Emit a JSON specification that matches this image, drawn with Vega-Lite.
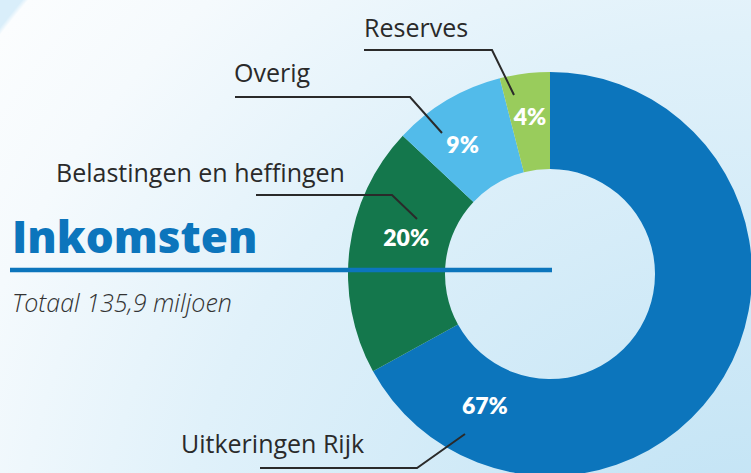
{
  "$schema": "https://vega.github.io/schema/vega-lite/v6.json",
  "width": 751,
  "height": 473,
  "padding": 0,
  "autosize": {"type": "none"},
  "background": "#f6fafd",
  "config": {
    "view": {
      "stroke": null,
      "fill": {
        "gradient": "radial",
        "x1": 1, "y1": 1, "r1": 0,
        "x2": 1, "y2": 1, "r2": 1.28,
        "stops": [
          {"offset": 0, "color": "#bde1f4"},
          {"offset": 0.6, "color": "#e0f1fa"},
          {"offset": 0.85, "color": "#f5fafd"},
          {"offset": 0.985, "color": "#fbfdfe"},
          {"offset": 0.99, "color": "#d9eefa"},
          {"offset": 1, "color": "#d9eefa"}
        ]
      }
    },
    "font": "Open Sans"
  },
  "title": {
    "text": "Inkomsten",
    "subtitle": "Totaal 135,9 miljoen",
    "anchor": "start",
    "frame": "group",
    "orient": "top",
    "offset": 0,
    "dx": 12,
    "dy": 317,
    "font": "Open Sans",
    "fontSize": 44,
    "fontWeight": 800,
    "color": "#0c75bc",
    "subtitleFont": "Open Sans",
    "subtitleFontSize": 25,
    "subtitleFontStyle": "italic",
    "subtitleFontWeight": 300,
    "subtitleColor": "#333333",
    "subtitlePadding": 30
  },
  "datasets": {
    "income": [
      {"bron": "Uitkeringen Rijk", "pct": 0.67, "order": 1},
      {"bron": "Belastingen en heffingen", "pct": 0.20, "order": 2},
      {"bron": "Overig", "pct": 0.09, "order": 3},
      {"bron": "Reserves", "pct": 0.04, "order": 4}
    ],
    "leaders": [
      {"bron": "Reserves", "seq": 1, "x": -186, "y": 224},
      {"bron": "Reserves", "seq": 2, "x": -58, "y": 224},
      {"bron": "Reserves", "seq": 3, "x": -36, "y": 179},
      {"bron": "Overig", "seq": 1, "x": -315, "y": 177},
      {"bron": "Overig", "seq": 2, "x": -140, "y": 177},
      {"bron": "Overig", "seq": 3, "x": -108, "y": 141},
      {"bron": "Belastingen en heffingen", "seq": 1, "x": -294, "y": 79},
      {"bron": "Belastingen en heffingen", "seq": 2, "x": -158, "y": 79},
      {"bron": "Belastingen en heffingen", "seq": 3, "x": -133, "y": 55},
      {"bron": "Uitkeringen Rijk", "seq": 1, "x": -290, "y": -194},
      {"bron": "Uitkeringen Rijk", "seq": 2, "x": -133, "y": -194},
      {"bron": "Uitkeringen Rijk", "seq": 3, "x": -85, "y": -160}
    ],
    "names": [
      {"bron": "Reserves", "x": -186, "y": 237},
      {"bron": "Overig", "x": -316, "y": 192},
      {"bron": "Belastingen en heffingen", "x": -494, "y": 92},
      {"bron": "Uitkeringen Rijk", "x": -369, "y": -179}
    ],
    "underline": [
      {"x": -540, "x2": 2, "y": 4}
    ]
  },
  "layer": [
    {
      "data": {"name": "income"},
      "mark": {"type": "arc", "innerRadius": 105, "outerRadius": 202, "x": 550, "y": 274},
      "encoding": {
        "theta": {"field": "pct", "type": "quantitative", "stack": true},
        "order": {"field": "order", "type": "quantitative"},
        "color": {
          "field": "bron", "type": "nominal", "legend": null,
          "scale": {
            "domain": ["Uitkeringen Rijk", "Belastingen en heffingen", "Overig", "Reserves"],
            "range": ["#0c75bc", "#14774c", "#52bbea", "#99cc5c"]
          }
        }
      }
    },
    {
      "data": {"name": "income"},
      "mark": {"type": "text", "radius": 152, "x": 550, "y": 274, "dx": -196, "dy": 56, "font": "Lato", "fontWeight": 800, "fontSize": 23, "fill": "white", "align": "center", "baseline": "middle"},
      "encoding": {
        "theta": {"field": "pct", "type": "quantitative", "stack": true},
        "order": {"field": "order", "type": "quantitative"},
        "text": {"condition": {"test": "datum.bron !== 'Uitkeringen Rijk'", "value": ""}, "field": "pct", "type": "quantitative", "format": ".0%"}
      }
    },
    {
      "data": {"name": "income"},
      "mark": {"type": "text", "radius": 152, "x": 550, "y": 274, "dx": 7, "dy": -16, "font": "Lato", "fontWeight": 800, "fontSize": 23, "fill": "white", "align": "center", "baseline": "middle"},
      "encoding": {
        "theta": {"field": "pct", "type": "quantitative", "stack": true},
        "order": {"field": "order", "type": "quantitative"},
        "text": {"condition": {"test": "datum.bron !== 'Belastingen en heffingen'", "value": ""}, "field": "pct", "type": "quantitative", "format": ".0%"}
      }
    },
    {
      "data": {"name": "income"},
      "mark": {"type": "text", "radius": 152, "x": 550, "y": 274, "dx": -10, "dy": 3, "font": "Lato", "fontWeight": 800, "fontSize": 23, "fill": "white", "align": "center", "baseline": "middle"},
      "encoding": {
        "theta": {"field": "pct", "type": "quantitative", "stack": true},
        "order": {"field": "order", "type": "quantitative"},
        "text": {"condition": {"test": "datum.bron !== 'Overig'", "value": ""}, "field": "pct", "type": "quantitative", "format": ".0%"}
      }
    },
    {
      "data": {"name": "income"},
      "mark": {"type": "text", "radius": 152, "x": 550, "y": 274, "dx": -1, "dy": -5, "font": "Lato", "fontWeight": 800, "fontSize": 23, "fill": "white", "align": "center", "baseline": "middle"},
      "encoding": {
        "theta": {"field": "pct", "type": "quantitative", "stack": true},
        "order": {"field": "order", "type": "quantitative"},
        "text": {"condition": {"test": "datum.bron !== 'Reserves'", "value": ""}, "field": "pct", "type": "quantitative", "format": ".0%"}
      }
    },
    {
      "data": {"name": "underline"},
      "mark": {"type": "rule", "color": "#0c75bc", "strokeWidth": 4.5},
      "encoding": {
        "x": {"field": "x", "type": "quantitative", "scale": {"domain": [-550, 201], "nice": false, "zero": false}, "axis": null},
        "x2": {"field": "x2"},
        "y": {"field": "y", "type": "quantitative", "scale": {"domain": [-199, 274], "nice": false, "zero": false}, "axis": null}
      }
    },
    {
      "data": {"name": "leaders"},
      "mark": {"type": "line", "color": "#2a2a2a", "strokeWidth": 2, "strokeCap": "butt"},
      "encoding": {
        "x": {"field": "x", "type": "quantitative", "scale": {"domain": [-550, 201], "nice": false, "zero": false}, "axis": null},
        "y": {"field": "y", "type": "quantitative", "scale": {"domain": [-199, 274], "nice": false, "zero": false}, "axis": null},
        "detail": {"field": "bron", "type": "nominal"},
        "order": {"field": "seq", "type": "quantitative"}
      }
    },
    {
      "data": {"name": "names"},
      "mark": {"type": "text", "align": "left", "baseline": "alphabetic", "font": "Open Sans", "fontSize": 25, "color": "#2a2a2a"},
      "encoding": {
        "x": {"field": "x", "type": "quantitative", "scale": {"domain": [-550, 201], "nice": false, "zero": false}, "axis": null},
        "y": {"field": "y", "type": "quantitative", "scale": {"domain": [-199, 274], "nice": false, "zero": false}, "axis": null},
        "text": {"field": "bron", "type": "nominal"}
      }
    }
  ]
}
